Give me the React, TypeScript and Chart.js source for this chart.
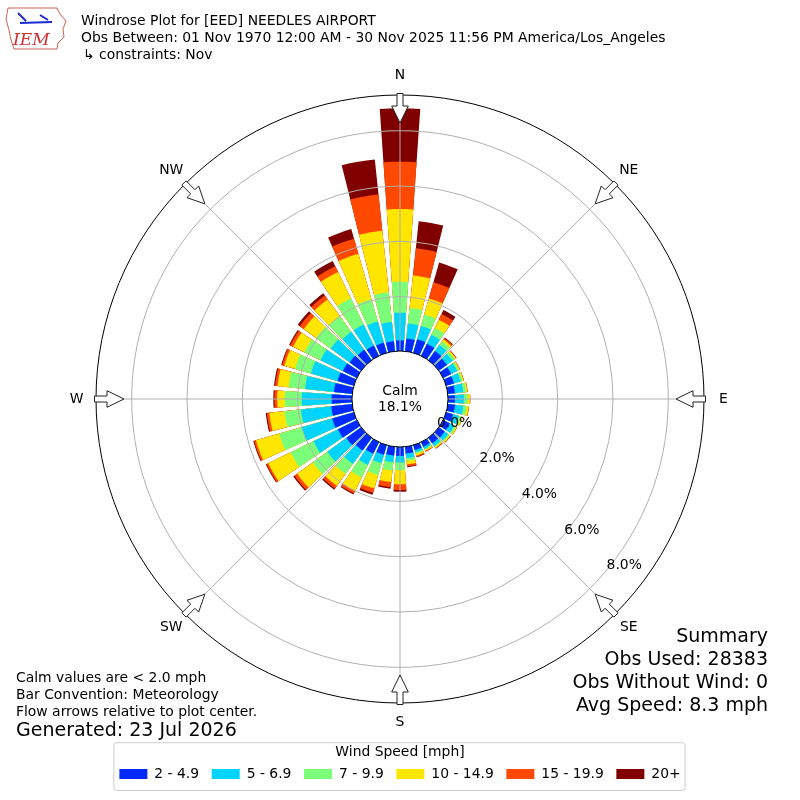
import React, { useEffect, useRef } from 'react';
import { Chart, registerables } from 'chart.js';

Chart.register(...registerables);

// ---------------- data ----------------
const DIRECTIONS = [0, 10, 20, 30, 40, 50, 60, 70, 80, 90, 100, 110, 120, 130, 140, 150, 160, 170,
  180, 190, 200, 210, 220, 230, 240, 250, 260, 270, 280, 290, 300, 310, 320, 330, 340, 350];
const COMPASS_LABELS = ['N', 'NE', 'E', 'SE', 'S', 'SW', 'W', 'NW'];
const SPEED_BINS = ['2 - 4.9', '5 - 6.9', '7 - 9.9', '10 - 14.9', '15 - 19.9', '20+'];
const CALM_PCT = 18.1;
const RADIAL_TICKS = [0, 2, 4, 6, 8];

// percent of observations per direction, per speed bin
const BIN_2_5 = [0.42, 0.50, 0.55, 0.52, 0.45, 0.40, 0.36, 0.33, 0.30, 0.29, 0.30, 0.30, 0.30, 0.30, 0.28, 0.22, 0.22, 0.28,
  0.36, 0.36, 0.40, 0.50, 0.60, 0.70, 0.80, 0.85, 0.80, 0.77, 0.70, 0.65, 0.60, 0.55, 0.50, 0.45, 0.42, 0.40];
const BIN_5_7 = [1.00, 0.54, 0.50, 0.36, 0.27, 0.25, 0.24, 0.25, 0.30, 0.32, 0.30, 0.22, 0.18, 0.15, 0.12, 0.08, 0.08, 0.17,
  0.24, 0.24, 0.31, 0.45, 0.60, 0.85, 0.98, 1.15, 1.10, 1.08, 1.05, 1.00, 0.90, 0.85, 0.80, 0.85, 0.79, 0.70];
const BIN_7_10 = [1.12, 0.57, 0.43, 0.28, 0.16, 0.10, 0.07, 0.08, 0.10, 0.14, 0.12, 0.08, 0.07, 0.06, 0.05, 0.05, 0.06, 0.10,
  0.27, 0.30, 0.45, 0.50, 0.45, 0.65, 0.92, 0.85, 0.60, 0.61, 0.60, 0.60, 0.65, 0.65, 0.70, 1.05, 0.84, 1.08];
const BIN_10_15 = [2.63, 1.18, 0.60, 0.33, 0.09, 0.05, 0.04, 0.04, 0.05, 0.08, 0.08, 0.05, 0.04, 0.04, 0.04, 0.04, 0.07, 0.13,
  0.51, 0.42, 0.51, 0.55, 0.53, 0.70, 0.90, 0.87, 0.55, 0.28, 0.40, 0.40, 0.45, 0.55, 0.75, 1.06, 1.71, 2.24];
const BIN_15_20 = [1.71, 0.99, 0.61, 0.23, 0.05, 0.02, 0.01, 0.01, 0.01, 0.01, 0.01, 0.01, 0.01, 0.02, 0.02, 0.02, 0.04, 0.07,
  0.21, 0.18, 0.16, 0.10, 0.12, 0.12, 0.07, 0.07, 0.09, 0.10, 0.09, 0.09, 0.12, 0.18, 0.17, 0.23, 0.57, 1.31];
const BIN_20P = [1.93, 0.98, 0.74, 0.16, 0.03, 0.01, 0.00, 0.00, 0.00, 0.00, 0.00, 0.00, 0.00, 0.00, 0.01, 0.01, 0.02, 0.03,
  0.06, 0.06, 0.07, 0.04, 0.05, 0.05, 0.03, 0.03, 0.04, 0.04, 0.04, 0.03, 0.04, 0.09, 0.10, 0.21, 0.36, 1.28];

const BINS = [BIN_2_5, BIN_5_7, BIN_7_10, BIN_10_15, BIN_15_20, BIN_20P];
const COLORS = ['rgb(0,42,255)', 'rgb(0,212,255)', 'rgb(123,255,123)', 'rgb(255,230,0)', 'rgb(255,72,0)', 'rgb(128,0,0)'];

const TITLE_LINES = [
  'Windrose Plot for [EED] NEEDLES AIRPORT',
  'Obs Between: 01 Nov 1970 12:00 AM - 30 Nov 2025 11:56 PM America/Los_Angeles',
  '\u21b3 constraints: Nov',
];
const NOTE_LINES = ['Calm values are < 2.0 mph', 'Bar Convention: Meteorology', 'Flow arrows relative to plot center.'];
const GENERATED = 'Generated: 23 Jul 2026';
const SUMMARY_LINES = ['Summary', 'Obs Used: 28383', 'Obs Without Wind: 0', 'Avg Speed: 8.3 mph'];

// ---------------- layout / style constants ----------------
const FONT = '"DejaVu Sans", sans-serif';
const FS = 13.9;
const FS_BIG = 19;
const R_MIN = -1.7;
const R_MAX = 9.29;
const OPENING = 0.8;
const LABEL_BEARING = 130;
const TITLE_PAD_TOP = 42;

const SECTOR = 360 / DIRECTIONS.length;
const BAR = SECTOR * OPENING;
const GAP = SECTOR - BAR;

// arc segments: bar halves of N at both ends, gap/bar pairs in between
type Seg = { dir: number; angle: number };
const SEGS: Seg[] = (() => {
  const s: Seg[] = [{ dir: 0, angle: BAR / 2 }];
  for (let k = 1; k < DIRECTIONS.length; k++) {
    s.push({ dir: -1, angle: GAP });
    s.push({ dir: k, angle: BAR });
  }
  s.push({ dir: -1, angle: GAP });
  s.push({ dir: 0, angle: BAR / 2 });
  return s;
})();

// cumulative stacks
const CUMULATIVE = BINS.map((_, b) =>
  DIRECTIONS.map((__, k) => BINS.slice(0, b + 1).reduce((acc, arr) => acc + arr[k], 0))
);

const toRad = (d: number) => (d * Math.PI) / 180;

const overlayPlugin = {
  id: 'windroseOverlay',
  afterDraw(chart: any) {
    const ctx: CanvasRenderingContext2D = chart.ctx;
    const s = chart.scales.r;
    const cx = s.xCenter;
    const cy = s.yCenter;
    const R = s.getDistanceFromCenterForValue(s.max);
    const r0 = s.getDistanceFromCenterForValue(0);
    ctx.save();

    // calm circle
    ctx.beginPath();
    ctx.arc(cx, cy, r0 + 1, 0, Math.PI * 2);
    ctx.fillStyle = '#fff';
    ctx.fill();
    ctx.lineWidth = 1;
    ctx.strokeStyle = '#000';
    ctx.stroke();
    ctx.fillStyle = '#000';
    ctx.font = `${FS}px ${FONT}`;
    ctx.textAlign = 'center';
    ctx.textBaseline = 'middle';
    ctx.fillText('Calm', cx, cy - 8);
    ctx.fillText(`${CALM_PCT.toFixed(1)}%`, cx, cy + 8);

    // radial tick labels
    const la = toRad(LABEL_BEARING);
    ctx.textAlign = 'left';
    RADIAL_TICKS.forEach((v) => {
      const r = s.getDistanceFromCenterForValue(v);
      ctx.fillText(`${v.toFixed(1)}%`, cx + r * Math.sin(la) + 1, cy - r * Math.cos(la) - 6);
    });

    // compass labels + arrows
    COMPASS_LABELS.forEach((lab, i) => {
      const th = toRad((360 / COMPASS_LABELS.length) * i);
      const sn = Math.sin(th);
      const cs = Math.cos(th);
      const P = (d: number, w: number): [number, number] => [cx + d * sn + w * cs, cy - d * cs + w * sn];
      ctx.textAlign = 'center';
      ctx.fillStyle = '#000';
      ctx.fillText(lab, cx + (R + 19.5) * sn, cy - (R + 19.5) * cs);
      const pts = [P(R + 1.5, -3), P(R - 11, -3), P(R - 11, -8.3), P(R - 28, 0), P(R - 11, 8.3), P(R - 11, 3), P(R + 1.5, 3)];
      ctx.beginPath();
      pts.forEach((p, j) => (j === 0 ? ctx.moveTo(p[0], p[1]) : ctx.lineTo(p[0], p[1])));
      ctx.closePath();
      ctx.fillStyle = '#fff';
      ctx.fill();
      ctx.strokeStyle = '#222';
      ctx.lineWidth = 1;
      ctx.stroke();
    });

    // legend frame
    const lg = chart.legend;
    if (lg && lg.legendHitBoxes && lg.legendHitBoxes.length) {
      const hb = lg.legendHitBoxes;
      const last = hb[hb.length - 1];
      const x0 = hb[0].left - 6;
      const x1 = last.left + last.width + 4;
      const y0 = lg.top + TITLE_PAD_TOP - 3;
      const y1 = lg.bottom - 1;
      ctx.beginPath();
      (ctx as any).roundRect(x0 + 0.5, y0 + 0.5, x1 - x0, y1 - y0, 3);
      ctx.strokeStyle = '#cccccc';
      ctx.lineWidth = 1;
      ctx.stroke();
    }

    // header text
    ctx.fillStyle = '#000';
    ctx.textAlign = 'left';
    ctx.textBaseline = 'alphabetic';
    ctx.font = `${FS}px ${FONT}`;
    const titleY = [25, 42, 58.5];
    TITLE_LINES.forEach((t, i) => ctx.fillText(t, i === 2 ? 83 : 81, titleY[i]));

    // notes
    const noteY = [682, 699, 716];
    NOTE_LINES.forEach((t, i) => ctx.fillText(t, 16, noteY[i]));
    ctx.font = `${FS_BIG}px ${FONT}`;
    ctx.fillText(GENERATED, 16, 736);

    // summary
    ctx.textAlign = 'right';
    ctx.font = `${FS_BIG}px ${FONT}`;
    const sumY = [642, 665, 688, 711];
    SUMMARY_LINES.forEach((t, i) => ctx.fillText(t, 768, sumY[i]));

    // logo
    ctx.beginPath();
    const outline: [number, number][] = [[8, 8], [57, 8], [60, 14], [66, 21], [63, 29], [64, 37], [58, 43], [57, 49], [14, 49], [11, 40], [9, 30], [6, 19]];
    outline.forEach((p, j) => (j === 0 ? ctx.moveTo(p[0], p[1]) : ctx.lineTo(p[0], p[1])));
    ctx.closePath();
    ctx.strokeStyle = '#c0392b';
    ctx.lineWidth = 0.8;
    ctx.stroke();
    ctx.strokeStyle = '#1a2bd6';
    ctx.lineWidth = 2;
    ctx.beginPath();
    ctx.moveTo(20, 23);
    ctx.lineTo(52, 22);
    ctx.moveTo(18, 13);
    ctx.lineTo(26, 21);
    ctx.moveTo(40, 15);
    ctx.lineTo(48, 20);
    ctx.stroke();
    ctx.fillStyle = '#d03030';
    ctx.font = `italic 17px "DejaVu Serif", serif`;
    ctx.textAlign = 'left';
    ctx.fillText('IEM', 13, 45);

    ctx.restore();
  },
};

export default function App() {
  const ref = useRef<HTMLCanvasElement>(null);

  useEffect(() => {
    const canvas = ref.current;
    if (!canvas) return;
    const datasets = BINS.map((_, b) => ({
      label: SPEED_BINS[b],
      data: SEGS.map((sg) => (sg.dir < 0 ? R_MIN : CUMULATIVE[b][sg.dir])),
      backgroundColor: SEGS.map((sg) => (sg.dir < 0 ? 'rgba(0,0,0,0)' : COLORS[b])),
      angle: (c: any) => SEGS[c.dataIndex].angle,
      borderWidth: 0,
    }));

    const chart = new Chart(canvas, {
      type: 'polarArea',
      data: { labels: COMPASS_LABELS, datasets: datasets as any },
      options: {
        responsive: false,
        animation: false,
        devicePixelRatio: 1,
        layout: { padding: { left: 96, right: 96, top: 95, bottom: 9 } },
        elements: { arc: { borderWidth: 0 } },
        scales: {
          r: {
            min: R_MIN,
            max: R_MAX,
            startAngle: 0,
            afterBuildTicks: (sc: any) => {
              sc.ticks = [...RADIAL_TICKS, R_MAX].map((v) => ({ value: v }));
            },
            ticks: { display: false },
            pointLabels: { display: false },
            grid: {
              z: 1,
              circular: true,
              color: (c: any) => (c.tick && c.tick.value === R_MAX ? '#000000' : c.tick && c.tick.value === 0 ? 'rgba(0,0,0,0)' : '#b0b0b0'),
              lineWidth: 1,
            },
            angleLines: { display: true, color: '#b0b0b0', lineWidth: 1 },
          } as any,
        },
        plugins: {
          tooltip: { enabled: false },
          legend: {
            display: true,
            position: 'bottom',
            align: 'center',
            title: {
              display: true,
              text: 'Wind Speed [mph]',
              color: '#000',
              font: { family: FONT, size: FS },
              padding: { top: TITLE_PAD_TOP, bottom: -7.4 } as any,
            },
            labels: {
              color: '#000',
              font: { family: FONT, size: FS },
              boxWidth: 28,
              boxHeight: 10,
              padding: 12.6,
              generateLabels: () =>
                SPEED_BINS.map((t, i) => ({
                  text: t,
                  fillStyle: COLORS[i],
                  strokeStyle: COLORS[i],
                  lineWidth: 0,
                  hidden: false,
                  datasetIndex: i,
                  fontColor: '#000',
                })),
            },
          },
        },
      } as any,
      plugins: [overlayPlugin],
    });
    return () => chart.destroy();
  }, []);

  return (
    <div style={{ position: 'fixed', left: 0, top: 0, width: 800, height: 800, background: '#fff' }}>
      <canvas ref={ref} width={800} height={800} style={{ display: 'block', width: 800, height: 800 }} />
    </div>
  );
}
